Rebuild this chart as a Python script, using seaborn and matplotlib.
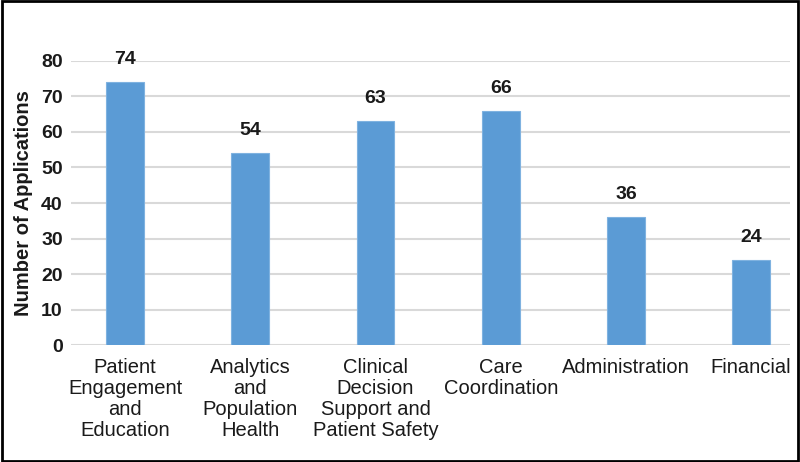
import matplotlib
matplotlib.use('Agg')
import matplotlib.pyplot as plt
import seaborn as sns
import pandas as pd

categories = ['Patient\nEngagement\nand\nEducation', 'Analytics\nand\nPopulation\nHealth',
              'Clinical\nDecision\nSupport and\nPatient Safety', 'Care\nCoordination',
              'Administration', 'Financial']
counts = [74, 54, 63, 66, 36, 24]
yticks = [0, 10, 20, 30, 40, 50, 60, 70, 80]

BAR = '#5B9BD5'
FONT = ['Liberation Sans', 'DejaVu Sans']

sns.set_theme(style='white')
plt.rcParams['font.family'] = FONT

df = pd.DataFrame({'cat': categories, 'n': counts})

fig = plt.figure(figsize=(8, 4.62), dpi=100)
ax = fig.add_axes([0.089, 0.2532, 0.8985, 0.6148])

sns.barplot(data=df, x='cat', y='n', color=BAR, width=0.3, saturation=1,
            edgecolor='#7FB2E0', linewidth=0.8, ax=ax, zorder=3)

for i, v in enumerate(counts):
    ax.annotate(f'{v}', (i, v), xytext=(0, 10), textcoords='offset points',
                ha='center', va='bottom', fontsize=14, fontweight='bold', color='#1A1A1A')

ax.set_xlim(-0.43, 5.31)
ax.set_ylim(0, 80)
ax.set_yticks(yticks)
ax.yaxis.grid(True, color='#D9D9D9', linewidth=1.5, zorder=0)
ax.set_axisbelow(True)
for s in ax.spines.values():
    s.set_visible(False)
ax.tick_params(axis='y', labelsize=14, pad=6, length=0, labelcolor='#1A1A1A')
ax.tick_params(axis='x', labelsize=14.5, pad=9, length=0, labelcolor='#1A1A1A')
for t in ax.get_yticklabels():
    t.set_fontweight('bold')
for t in ax.get_xticklabels():
    t.set_linespacing(1.15)
ax.set_xlabel('')
ax.set_ylabel('Number of Applications', fontsize=14.5, fontweight='bold', color='#1A1A1A', labelpad=6)

# border around figure
fig.patches.append(plt.Rectangle((0.002, 0.003), 0.996, 0.994, transform=fig.transFigure,
                                 fill=False, edgecolor='black', linewidth=2))

fig.savefig('out.png', dpi=100)
